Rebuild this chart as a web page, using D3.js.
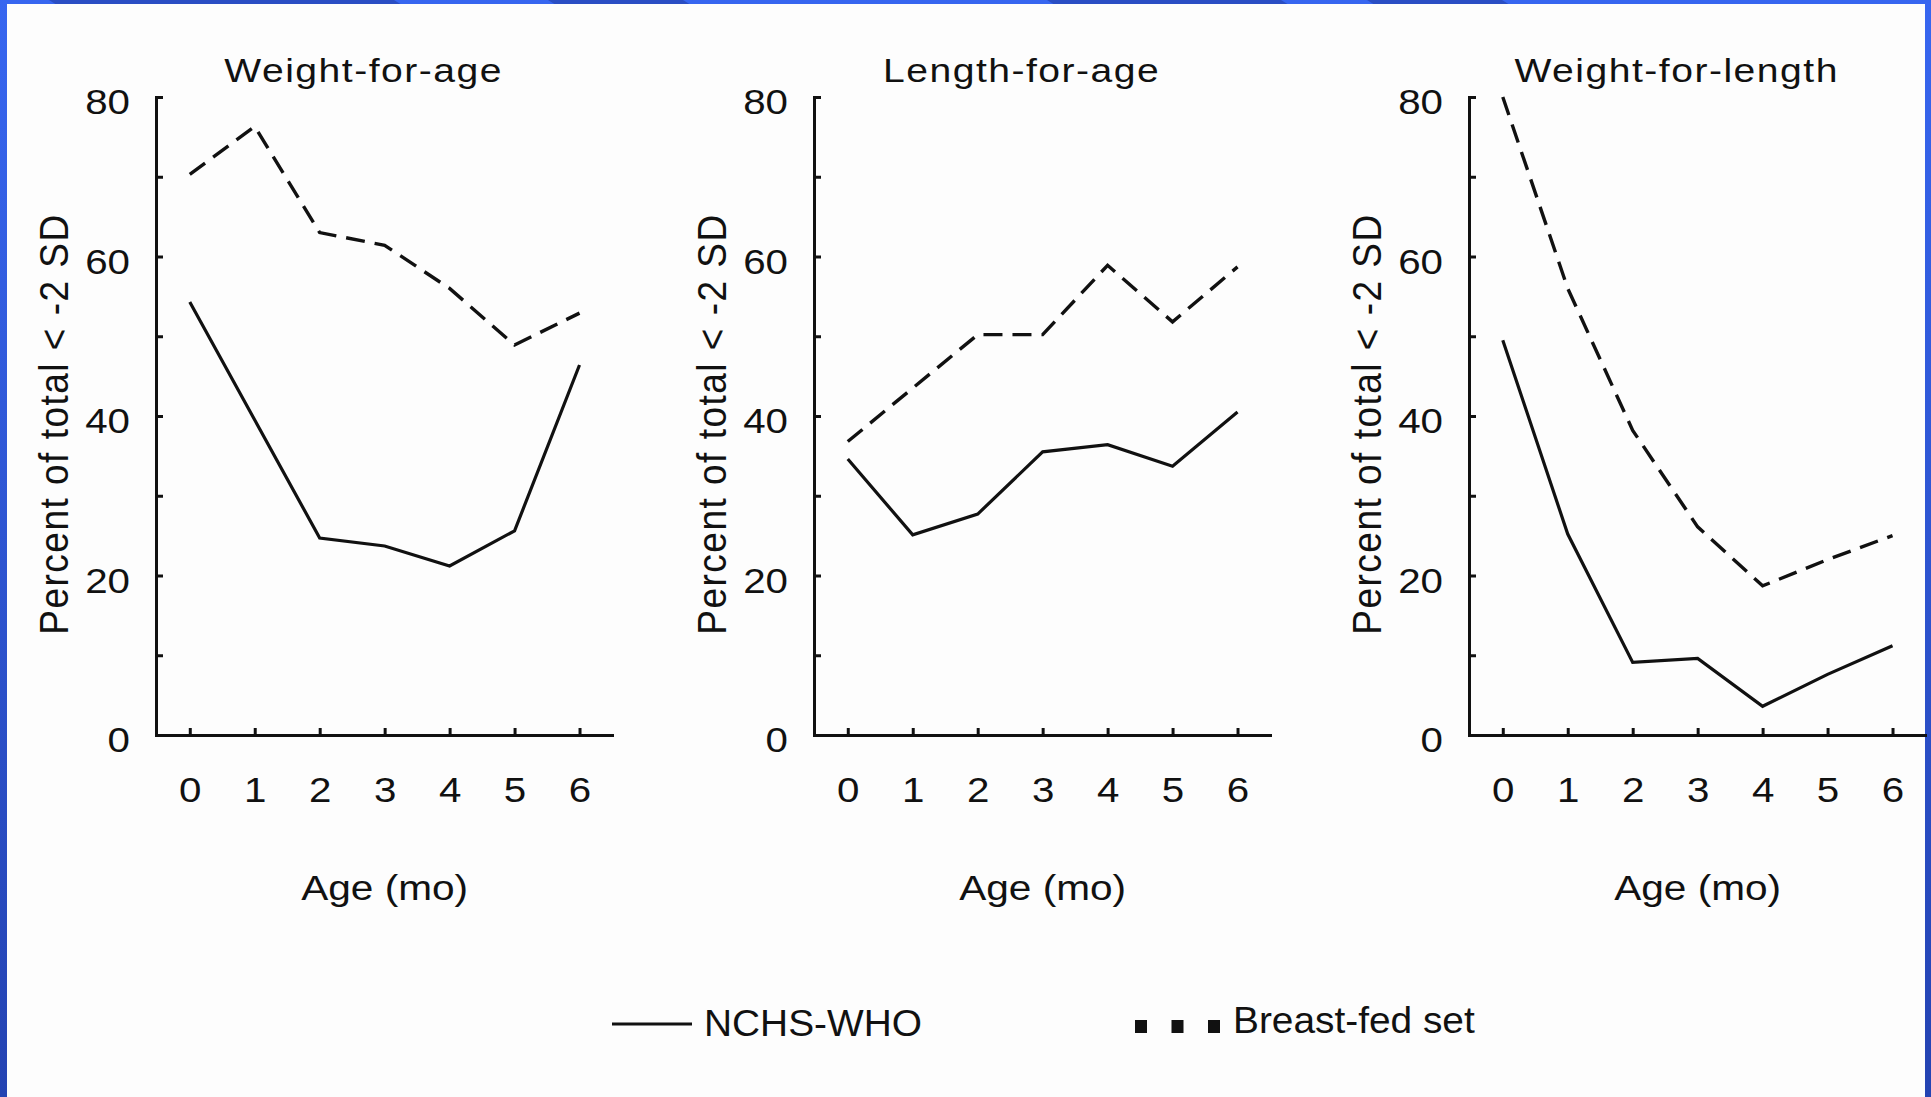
<!DOCTYPE html>
<html><head><meta charset="utf-8">
<script src="https://cdn.jsdelivr.net/npm/d3@7"></script>
<style>
html,body{margin:0;padding:0;background:#2f58d8;overflow:hidden}
svg{display:block}
text{font-family:"Liberation Sans",Arial,Helvetica,sans-serif;fill:#111}
</style></head><body>
<svg id="chart" width="1931" height="1097"></svg>
<script>
// ---------- data ----------
const ages = [0, 1, 2, 3, 4, 5, 6];
const panelTitles = ["Weight-for-age", "Length-for-age", "Weight-for-length"];
const seriesNames = ["NCHS-WHO", "Breast-fed set"];
const nchsWeightForAge     = [54.3, 39.5, 24.7, 23.7, 21.2, 25.6, 46.4];
const breastWeightForAge   = [70.3, 76.3, 63.0, 61.4, 56.0, 48.9, 52.9];
const nchsLengthForAge     = [34.6, 25.1, 27.7, 35.5, 36.4, 33.7, 40.5];
const breastLengthForAge   = [36.8, 43.5, 50.2, 50.2, 58.9, 51.8, 58.7];
const nchsWeightForLength  = [49.5, 25.2, 9.1, 9.6, 3.6, 7.6, 11.2];
const breastWeightForLength= [80.0, 56.0, 38.2, 26.1, 18.7, 22.0, 25.0];
const yTicks = [0, 10, 20, 30, 40, 50, 60, 70, 80];
const yTickLabels = [0, 20, 40, 60, 80];
const xAxisTitle = "Age (mo)";
const yAxisTitle = "Percent of total < -2 SD";

const panels = [
  {title: panelTitles[0], nchs: nchsWeightForAge,    bf: breastWeightForAge},
  {title: panelTitles[1], nchs: nchsLengthForAge,    bf: breastLengthForAge},
  {title: panelTitles[2], nchs: nchsWeightForLength, bf: breastWeightForLength}
];

// ---------- layout ----------
const W = 1931, H = 1097;
const panelLeft = [156, 814, 1469];
const plotW = 456;
const ink = "#111";

const svg = d3.select("#chart");
const defs = svg.append("defs");
const grad = defs.append("linearGradient").attr("id", "bg")
  .attr("x1", 0).attr("y1", 0).attr("x2", 0).attr("y2", 1);
grad.append("stop").attr("offset", "0%").attr("stop-color", "#3766f0");
grad.append("stop").attr("offset", "100%").attr("stop-color", "#2443b2");
svg.append("rect").attr("width", W).attr("height", H).attr("fill", "url(#bg)");
const streaks = [[49, 394], [548, 683], [1047, 1281], [1367, 1502]];
svg.selectAll("polygon.streak").data(streaks).join("polygon")
  .attr("class", "streak")
  .attr("points", d => `${d[0]},0 ${d[1]},0 ${d[1] + 8},5 ${d[0] + 8},5`)
  .attr("fill", "#2a4ec4");
svg.append("rect").attr("x", 7).attr("y", 4).attr("width", 1918).attr("height", H - 4)
  .attr("fill", "#fdfdfd");

const y = d3.scaleLinear().domain([0, 80]).range([735, 97]);

panels.forEach((p, i) => {
  const left = panelLeft[i];
  const x = d3.scaleLinear().domain([-0.52, 6.5]).range([left, left + plotW]);
  const gp = svg.append("g");

  // y axis
  const ya = gp.append("g").attr("transform", `translate(${left},0)`)
    .call(d3.axisLeft(y).tickValues(yTicks).tickSize(-7).tickSizeOuter(0).tickPadding(26)
      .tickFormat(d => yTickLabels.includes(d) ? d3.format("d")(d) : ""));
  ya.select(".domain").attr("stroke", ink).attr("stroke-width", 3).attr("stroke-linecap", "square");
  ya.selectAll(".tick line").attr("stroke", ink).attr("stroke-width", 3);
  ya.selectAll(".tick text")
    .style("font-size", "36px")
    .attr("x", -26 / 1.12).attr("dy", "0.47em")
    .attr("transform", "scale(1.12,1)");

  // x axis
  const xa = gp.append("g").attr("transform", `translate(0,735)`)
    .call(d3.axisBottom(x).tickValues(ages).tickFormat(d3.format("d"))
      .tickSize(-7).tickSizeOuter(0).tickPadding(0));
  xa.select(".domain").attr("stroke", ink).attr("stroke-width", 3).attr("stroke-linecap", "square");
  xa.selectAll(".tick line").attr("stroke", ink).attr("stroke-width", 3);
  xa.selectAll(".tick text")
    .style("font-size", "36px")
    .attr("y", 67).attr("dy", 0)
    .attr("transform", "scale(1.12,1)");

  // lines
  const line = d3.line().x((d, j) => x(ages[j])).y(d => y(d));
  gp.append("path").datum(p.nchs).attr("d", line)
    .attr("fill", "none").attr("stroke", ink).attr("stroke-width", 3.2)
    .attr("stroke-linejoin", "miter");
  gp.append("path").datum(p.bf).attr("d", line)
    .attr("fill", "none").attr("stroke", ink).attr("stroke-width", 3.4)
    .attr("stroke-dasharray", "19,10");

  // titles
  gp.append("text")
    .attr("transform", `translate(${x(3) - 21},82) scale(1.15,1)`)
    .attr("text-anchor", "middle")
    .style("font-size", "34px").style("letter-spacing", "1.3px")
    .text(p.title);
  gp.append("text")
    .attr("transform", `translate(${x(3)},900) scale(1.16,1)`)
    .attr("text-anchor", "middle")
    .style("font-size", "35px")
    .text(xAxisTitle);
  gp.append("text")
    .attr("transform", `translate(${left - 88},424) scale(1.1,1) rotate(-90)`)
    .attr("text-anchor", "middle")
    .style("font-size", "37px").style("letter-spacing", "1.5px")
    .text(yAxisTitle);
});

// ---------- legend ----------
const lg = svg.append("g");
lg.append("line").attr("x1", 612).attr("x2", 692).attr("y1", 1024).attr("y2", 1024)
  .attr("stroke", ink).attr("stroke-width", 3);
lg.append("text").attr("transform", "translate(704,1036) scale(1.05,1)")
  .style("font-size", "37px").text(seriesNames[0]);
lg.selectAll("rect.sq").data([0, 1, 2]).join("rect").attr("class", "sq")
  .attr("x", d => 1135 + d * 36.5).attr("y", 1020).attr("width", 12).attr("height", 13)
  .attr("fill", ink);
lg.append("text").attr("transform", "translate(1233,1033) scale(1.05,1)")
  .style("font-size", "37px").text(seriesNames[1]);
</script>
</body></html>
